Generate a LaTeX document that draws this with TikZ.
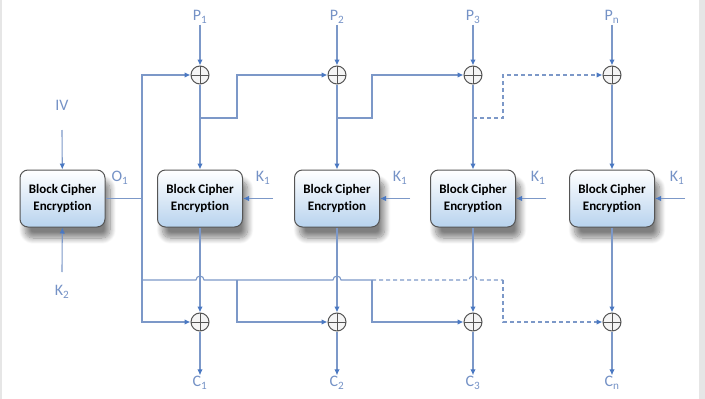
\documentclass[tikz,border=0pt]{standalone}
\usepackage{fontspec}
\setmainfont{Carlito}[Ligatures=NoCommon]
\usetikzlibrary{arrows.meta,shadows.blur}
\definecolor{ln}{HTML}{7C98C8}
\definecolor{ah}{HTML}{4A78C2}
\definecolor{lab}{HTML}{7592C6}
\definecolor{bord}{HTML}{555555}
\definecolor{boxbot}{HTML}{B8D3EE}
\definecolor{framecol}{HTML}{E6E6E6}
\begin{document}
\begin{tikzpicture}[x=1pt,y=-1pt,
  conn/.style={draw=ln,line width=1.1pt},
  arr/.style={conn,-{Latex[length=6pt,width=5.5pt,color=ah]}},
  dashconn/.style={dash pattern=on 4pt off 3pt},
  cipher/.style={draw=bord,line width=1pt,rounded corners=8pt,minimum width=85pt,minimum height=57pt,
    top color=white,bottom color=boxbot,align=center,
    font=\fontsize{13}{17}\selectfont\bfseries,
    blur shadow={shadow xshift=5pt,shadow yshift=-11pt,shadow blur radius=6pt,
      shadow blur steps=12,shadow opacity=50}},
  xor/.style={circle,draw=bord,line width=1pt,minimum size=18pt,inner sep=0pt,fill=gray!8,
    path picture={\draw[bord,line width=0.8pt]
      (path picture bounding box.north)--(path picture bounding box.south)
      (path picture bounding box.west)--(path picture bounding box.east);}},
  lbl/.style={text=lab,font=\fontsize{16}{16}\selectfont,inner sep=1pt}
]
\useasboundingbox (0,0) rectangle (705,399);
\fill[framecol] (0,0) rectangle (2,399);
\fill[framecol] (699,0) rectangle (705,399);

% left box
\node[cipher] (b0) at (62.5,198.5) {Block Cipher\\Encryption};
\node[lbl] (iv) at (62,105) {IV};
\coordinate (ivs) at (62,130);
\node[lbl] (k2) at (62,292) {K\textsubscript{2}};
\coordinate (k2s) at (62,272);
\node[lbl] (o1) at (120,178) {O\textsubscript{1}};

% columns
\node[lbl] (p1) at (200,17) {P\textsubscript{1}};
\node[lbl] (p2) at (337,17) {P\textsubscript{2}};
\node[lbl] (p3) at (473,17) {P\textsubscript{3}};
\node[lbl] (p4) at (612,17) {P\textsubscript{n}};

\node[xor] (t1) at (200,75) {};
\node[xor] (t2) at (337,75) {};
\node[xor] (t3) at (473,75) {};
\node[xor] (t4) at (612,75) {};

\node[cipher] (b1) at (200,198.5) {Block Cipher\\Encryption};
\node[cipher] (b2) at (337,198.5) {Block Cipher\\Encryption};
\node[cipher] (b3) at (473,198.5) {Block Cipher\\Encryption};
\node[cipher] (b4) at (612,198.5) {Block Cipher\\Encryption};

\node[xor] (d1) at (200,322) {};
\node[xor] (d2) at (337,322) {};
\node[xor] (d3) at (473,322) {};
\node[xor] (d4) at (612,322) {};

\node[lbl] (c1) at (200,383) {C\textsubscript{1}};
\node[lbl] (c2) at (337,383) {C\textsubscript{2}};
\node[lbl] (c3) at (473,383) {C\textsubscript{3}};
\node[lbl] (c4) at (612,383) {C\textsubscript{n}};

\node[lbl] (ka) at (263,178) {K\textsubscript{1}};
\node[lbl] (kb) at (400,178) {K\textsubscript{1}};
\node[lbl] (kc) at (538,178) {K\textsubscript{1}};
\node[lbl] (kd) at (677,178) {K\textsubscript{1}};
\coordinate (kas) at (273,198.5);
\coordinate (kbs) at (410,198.5);
\coordinate (kcs) at (546,198.5);
\coordinate (kds) at (685,198.5);

% simple arrows
\draw[arr] (ivs) -- (b0);
\draw[arr] (k2s) -- (b0);
\foreach \i in {1,2,3,4}{
  \draw[arr] (p\i) -- (t\i);
  \draw[arr] (t\i) -- (b\i);
  \draw[arr] (b\i) -- (d\i);
  \draw[arr] (d\i) -- (c\i);
}
\draw[arr] (kas) -- (b1.east);
\draw[arr] (kbs) -- (b2.east);
\draw[arr] (kcs) -- (b3.east);
\draw[arr] (kds) -- (b4.east);

% O1 feed
\coordinate (o) at (142,198.5);
\draw[conn] (b0.east) -- (o);
\draw[arr] (o) |- (t1.west);
\draw[arr] (o) |- (d1.west);

% bottom bus with hops
\coordinate (h0) at (142,280);
\coordinate (h2) at (237,280);
\coordinate (h3) at (372,280);
\coordinate (h4) at (503,280);
\draw[conn] (h0) -- ([xshift=-4pt]h0 -| b1) arc[start angle=180,end angle=0,radius=4pt]
  -- ([xshift=-4pt]h0 -| b2) arc[start angle=180,end angle=0,radius=4pt] -- (h3);
\draw[arr] (h2) |- (d2.west);
\draw[arr] (h3) |- (d3.west);
\draw[conn,dashconn] (h3) -- ([xshift=-4pt]h3 -| b3) arc[start angle=180,end angle=0,radius=4pt] -- (h4);
\draw[arr,dashconn] (h4) |- (d4.west);

% top feedback
\coordinate (j1) at (200,118);
\coordinate (u1) at (237,118);
\coordinate (j2) at (337,118);
\coordinate (u2) at (372,118);
\coordinate (j3) at (473,118);
\coordinate (u3) at (503,118);
\draw[arr] (j1) -- (u1) |- (t2.west);
\draw[arr] (j2) -- (u2) |- (t3.west);
\draw[arr,dashconn] (j3) -- (u3) |- (t4.west);
\end{tikzpicture}
\end{document}
